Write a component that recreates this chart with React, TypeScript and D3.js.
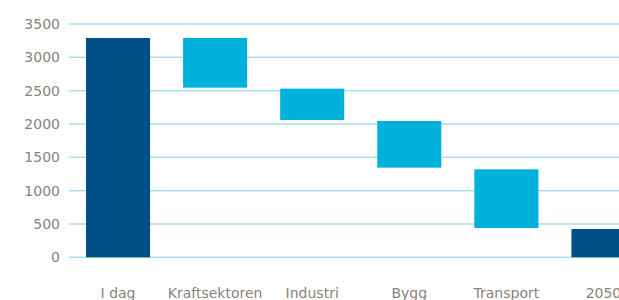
import React from "react";
import * as d3 from "d3";

const categories = ["I dag", "Kraftsektoren", "Industri", "Bygg", "Transport", "2050"];
const lowValues = [0, 2545, 2060, 1345, 440, 0];
const highValues = [3290, 3290, 2530, 2045, 1320, 425];
const isTotal = [true, false, false, false, false, true];
const yTicks = [0, 500, 1000, 1500, 2000, 2500, 3000, 3500];

const W = 619;
const H = 300;

export default function App() {
  const x = d3
    .scaleBand<string>()
    .domain(categories)
    .range([69.5, 652])
    .paddingInner(0.34)
    .paddingOuter(0.17);
  const y = d3.scaleLinear().domain([0, 3500]).range([257.3, 24]);
  const font = "'DejaVu Sans', sans-serif";
  const textColor = "#8a827d";

  return (
    <svg
      width={W}
      height={H}
      style={{ position: "fixed", left: 0, top: 0, background: "#fff" }}
      fontFamily={font}
    >
      <g>
        {yTicks.map((t) => (
          <g key={t}>
            <line
              x1={69}
              x2={W}
              y1={y(t)}
              y2={y(t)}
              stroke="#acdef1"
              strokeWidth={1.5}
            />
            <text
              x={60}
              y={y(t)}
              dy="0.36em"
              textAnchor="end"
              fontSize={14}
              fill={textColor}
            >
              {t}
            </text>
          </g>
        ))}
      </g>
      <g>
        {categories.map((c, i) => (
          <rect
            key={c}
            x={x(c)}
            y={y(highValues[i])}
            width={x.bandwidth()}
            height={y(lowValues[i]) - y(highValues[i])}
            fill={isTotal[i] ? "#004f87" : "#00b1db"}
          />
        ))}
      </g>
      <g>
        {categories.map((c) => (
          <text
            key={c}
            x={(x(c) as number) + x.bandwidth() / 2}
            y={297.5}
            textAnchor="middle"
            fontSize={14}
            fill={textColor}
          >
            {c}
          </text>
        ))}
      </g>
    </svg>
  );
}
